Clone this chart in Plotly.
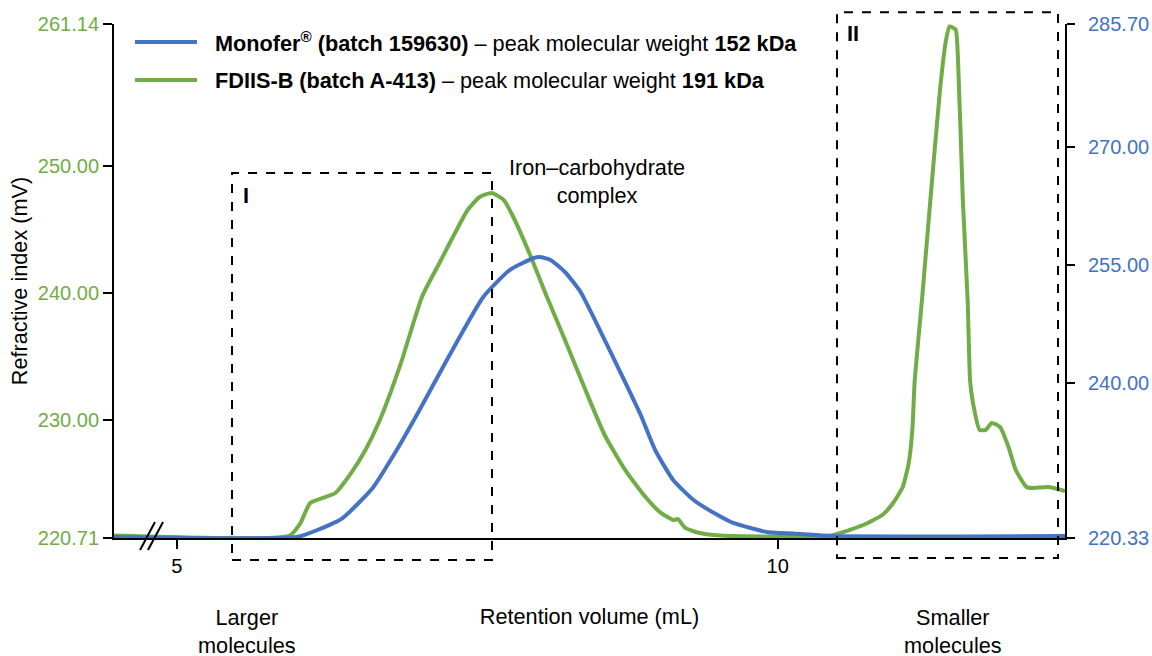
import plotly.graph_objects as go

# ---- data ----
fdiis_x = [4.478, 5.94, 6.03, 6.11, 6.32, 6.44, 6.57, 6.69, 6.86, 7.04, 7.19, 7.42, 7.52, 7.62, 7.72,
           7.80, 7.94, 8.08, 8.23, 8.40, 8.56, 8.73, 8.90, 9.02, 9.13, 9.17, 9.23, 9.35, 9.52, 10.44,
           10.71, 10.87, 10.96, 11.04, 11.09, 11.12, 11.14, 11.20, 11.27, 11.35, 11.40, 11.43, 11.48,
           11.50, 11.54, 11.58, 11.60, 11.62, 11.68, 11.73, 11.78, 11.85, 11.92, 11.98, 12.07, 12.12,
           12.25, 12.39]
fdiis_y = [220.90, 220.90, 221.90, 223.46, 224.25, 225.67, 227.63, 229.99, 234.32, 239.67, 242.42,
           246.51, 247.53, 247.85, 247.30, 245.96, 242.97, 239.67, 236.28, 232.35, 228.81, 226.06,
           223.93, 222.75, 222.13, 222.20, 221.50, 221.10, 220.90, 220.90, 221.73, 222.52, 223.46,
           224.72, 226.61, 229.21, 233.14, 239.43, 247.30, 255.95, 259.88, 260.95, 260.70, 258.31,
           247.30, 239.43, 233.14, 231.57, 229.21, 229.21, 229.76, 229.44, 227.87, 226.06, 224.72,
           224.64, 224.72, 224.41]

monofer_x = [4.478, 6.00, 6.17, 6.38, 6.63, 6.83, 7.02, 7.27, 7.55, 7.77, 7.97, 8.02, 8.11, 8.23,
             8.36, 8.52, 8.69, 8.86, 8.98, 9.13, 9.30, 9.50, 9.63, 9.91, 10.19, 10.44, 12.39]
monofer_y = [220.46, 220.46, 221.35, 222.87, 226.69, 231.52, 236.61, 243.60, 250.98, 254.41, 255.94,
             256.07, 255.69, 254.16, 251.62, 246.78, 241.44, 235.97, 231.52, 227.71, 225.16, 223.25,
             222.24, 221.09, 220.84, 220.58, 220.58]

left_ticks = [220.71, 230.00, 240.00, 250.00, 261.14]
right_ticks = [220.33, 240.00, 255.00, 270.00, 285.70]
x_ticks = [5, 10]

GREEN = "#70AD47"
BLUE = "#4472C4"
FONT = "Arial, Liberation Sans, sans-serif"
TXT = 21.7
TICK = 20

X_RANGE = [4.478, 12.39]

fig = go.Figure()
fig.add_trace(go.Scatter(x=monofer_x, y=monofer_y, mode="lines", yaxis="y2",
                         name="Monofer® (batch 159630)",
                         line=dict(color=BLUE, width=4, shape="spline", smoothing=0.5),
                         showlegend=False))
fig.add_trace(go.Scatter(x=fdiis_x, y=fdiis_y, mode="lines", yaxis="y",
                         name="FDIIS-B (batch A-413)",
                         line=dict(color=GREEN, width=4, shape="spline", smoothing=0.5),
                         showlegend=False))

shapes = []
dash = dict(color="black", width=2, dash="dash")
# dashed boxes I and II (x in mL, y in paper fraction)
shapes.append(dict(type="rect", xref="x", yref="paper", x0=5.46, x1=7.623, y0=-0.043, y1=0.710,
                   line=dash, fillcolor="rgba(0,0,0,0)", layer="above"))
shapes.append(dict(type="rect", xref="x", yref="paper", x0=10.493, x1=12.332, y0=-0.039, y1=1.023,
                   line=dash, fillcolor="rgba(0,0,0,0)", layer="above"))
# axis break marks
for xa, xb in [(4.695, 4.819), (4.761, 4.886)]:
    shapes.append(dict(type="line", xref="x", yref="paper", x0=xa, x1=xb, y0=-0.0233, y1=0.0311,
                       line=dict(color="black", width=2)))
# manual legend lines
for yy, col in [(0.965, BLUE), (0.891, GREEN)]:
    shapes.append(dict(type="line", xref="paper", yref="paper", x0=0.0221, x1=0.0873, y0=yy, y1=yy,
                       line=dict(color=col, width=4)))

def note(text, x, y, xref="paper", xanchor="center"):
    return dict(xref=xref, yref="paper", x=x, y=y, xanchor=xanchor, yanchor="middle",
                showarrow=False, font=dict(size=TXT, color="black", family=FONT), text=text)

ann = [
    note("<b>Monofer<sup>®</sup> (batch 159630)</b> – peak molecular weight <b>152 kDa</b>",
         0.1041, 0.965, xanchor="left"),
    note("<b>FDIIS-B (batch A-413)</b> – peak molecular weight <b>191 kDa</b>",
         0.1041, 0.891, xanchor="left"),
    note("<b>I</b>", 5.577, 0.667, xref="x"),
    note("<b>II</b>", 10.626, 0.9815, xref="x"),
    note("Iron–carbohydrate<br>complex", 8.50, 0.694, xref="x"),
    note("Larger<br>molecules", 5.584, -0.181, xref="x"),
    note("Smaller<br>molecules", 11.458, -0.181, xref="x"),
]

fig.update_layout(
    width=1152, height=656,
    margin=dict(l=114, r=87, t=24, b=118, autoexpand=False),
    paper_bgcolor="white", plot_bgcolor="white",
    font=dict(family=FONT, size=TXT, color="black"),
    showlegend=False,
    shapes=shapes, annotations=ann,
    xaxis=dict(range=X_RANGE, showgrid=False, zeroline=False, showline=True, linecolor="black",
               linewidth=2, ticks="outside", ticklen=9, tickwidth=2, tickcolor="black",
               tickvals=x_ticks, ticktext=[str(v) for v in x_ticks], automargin=False,
               tickfont=dict(size=TICK, color="black", family=FONT),
               title=dict(text="Retention volume (mL)", standoff=33,
                          font=dict(size=TXT, color="black", family=FONT))),
    yaxis=dict(range=[220.71, 261.14], showgrid=False, zeroline=False, showline=True,
               linecolor="black", linewidth=2, ticks="outside", ticklen=9, tickwidth=2,
               tickcolor="black", tickvals=left_ticks, ticktext=[f"{v:.2f}" for v in left_ticks],
               tickfont=dict(size=TICK, color=GREEN, family=FONT), ticklabelstandoff=0,
               automargin=False,
               title=dict(text="Refractive index (mV)", standoff=4,
                          font=dict(size=TXT, color="black", family=FONT))),
    yaxis2=dict(range=[220.33, 285.70], overlaying="y", side="right", showgrid=False,
                zeroline=False, showline=True, linecolor="black", linewidth=2, ticks="outside",
                ticklen=8, tickwidth=2, tickcolor="black", tickvals=right_ticks,
                ticktext=[f"{v:.2f}" for v in right_ticks], ticklabelstandoff=9,
                automargin=False, tickfont=dict(size=TICK, color=BLUE, family=FONT)),
)

fig.write_html("out.html", config={"displayModeBar": False},
               post_script="document.body.style.margin='0';document.body.style.overflow='hidden';")
